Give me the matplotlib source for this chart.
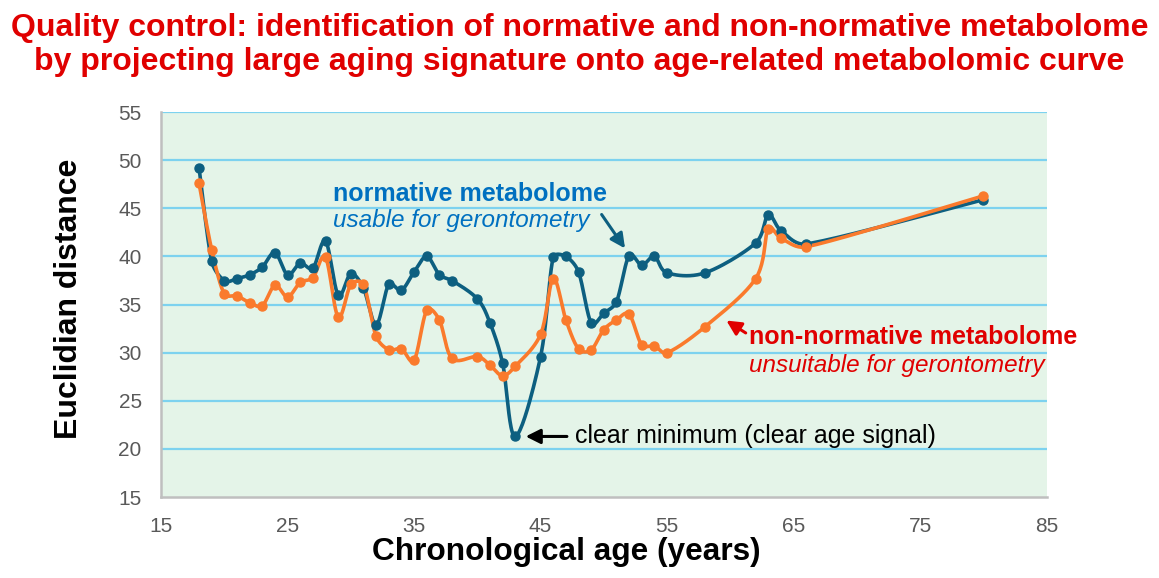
import numpy as np
import matplotlib
matplotlib.use('Agg')
import matplotlib.pyplot as plt

plt.rcParams['font.family'] = ['Liberation Sans', 'DejaVu Sans']

# ages (years) where the curves have a marker
ages = [18, 19, 20, 21, 22, 23, 24, 25, 26, 27, 28, 29, 30, 31, 32, 33, 34, 35, 36, 37, 38,
        40, 41, 42, 43, 45, 46, 47, 48, 49, 50, 51, 52, 53, 54, 55, 58, 62, 63, 64, 66, 80]

# euclidian distance, normative metabolome
dist_normative = [49.2, 39.5, 37.5, 37.7, 38.1, 38.9, 40.4, 38.1, 39.3, 38.8, 41.6, 36.0, 38.2,
                  36.7, 32.9, 37.1, 36.5, 38.4, 40.0, 38.1, 37.5, 35.6, 33.1, 28.9, 21.3, 29.6,
                  39.9, 40.0, 38.4, 33.1, 34.1, 35.3, 40.1, 39.1, 40.0, 38.3, 38.3, 41.4, 44.3,
                  42.7, 41.3, 45.9]

# euclidian distance, non-normative metabolome
dist_nonnormative = [47.6, 40.7, 36.1, 35.9, 35.2, 34.9, 37.0, 35.8, 37.3, 37.8, 39.9, 33.7, 37.1,
                     37.1, 31.7, 30.3, 30.4, 29.2, 34.4, 33.4, 29.4, 29.6, 28.7, 27.6, 28.6, 31.9,
                     37.7, 33.4, 30.4, 30.3, 32.4, 33.4, 34.0, 30.8, 30.7, 30.0, 32.7, 37.7, 42.9,
                     41.9, 41.0, 46.3]

x_ticks = [15, 25, 35, 45, 55, 65, 75, 85]
y_ticks = [15, 20, 25, 30, 35, 40, 45, 50, 55]

BLUE_LINE = '#0d5f80'
ORANGE_LINE = '#fa7a2c'
BLUE_TEXT = '#0070c0'
RED_TEXT = '#e00000'


def smooth_curve(ax, xs, ys, n=24, clamp=0.4):
    # excel-like smoothed line, worked out in pixel space so the
    # control handles can be kept short next to steep jumps
    pts = ax.transData.transform(np.column_stack([xs, ys]))
    pts = np.vstack([pts[0], pts, pts[-1]])
    t = np.linspace(0, 1, n)[:, None]
    out = []
    for i in range(1, len(pts) - 2):
        p0, p1, p2, p3 = pts[i - 1], pts[i], pts[i + 1], pts[i + 2]
        seg_len = np.hypot(*(p2 - p1))
        t1 = (p2 - p0) / 6
        t2 = (p3 - p1) / 6
        for tv in (t1, t2):
            l = np.hypot(*tv)
            if l > clamp * seg_len:
                tv *= clamp * seg_len / l
        c1 = p1 + t1
        c2 = p2 - t2
        seg = ((1 - t) ** 3) * p1 + 3 * ((1 - t) ** 2) * t * c1 + 3 * (1 - t) * t ** 2 * c2 + t ** 3 * p2
        out.append(seg if i == 1 else seg[1:])
    out = ax.transData.inverted().transform(np.vstack(out))
    return out[:, 0], out[:, 1]


fig = plt.figure(figsize=(11.59, 5.78), dpi=100)
ax = fig.add_axes([0.139, 0.140, 0.764, 0.666])
ax.set_facecolor('#e4f4e8')
ax.set_xlim(15, 85)
ax.set_ylim(15, 55)

for y in y_ticks[1:]:
    ax.axhline(y, color='#7dd2ef', linewidth=1.6, zorder=1)

for dist, color in [(dist_normative, BLUE_LINE), (dist_nonnormative, ORANGE_LINE)]:
    sx, sy = smooth_curve(ax, ages, dist)
    ax.plot(sx, sy, color=color, linewidth=2.6, zorder=3, solid_capstyle='round')
    ax.plot(ages, dist, 'o', color=color, markersize=6.5, zorder=4)

ax.set_xticks(x_ticks)
ax.set_yticks(y_ticks)
ax.tick_params(length=0, labelsize=15, labelcolor='#595959', pad=14)
for side in ['top', 'right']:
    ax.spines[side].set_visible(False)
for side in ['left', 'bottom']:
    ax.spines[side].set_color('#bfbfbf')
    ax.spines[side].set_linewidth(1.8)

ax.set_xlabel('Chronological age (years)', fontsize=22.8, fontweight='bold', labelpad=1)
ax.set_ylabel('Euclidian distance', fontsize=23, fontweight='bold', labelpad=24.5)
# the labels in the original sit a bit off the axes centre
ax.xaxis.label.set_x(0.458)
ax.yaxis.label.set_y(0.514)

fig.text(0.5, 0.938, 'Quality control: identification of normative and non-normative metabolome',
         ha='center', va='baseline', color=RED_TEXT, fontsize=23, fontweight='bold')
fig.text(0.5, 0.879, 'by projecting large aging signature onto age-related metabolomic curve',
         ha='center', va='baseline', color=RED_TEXT, fontsize=23, fontweight='bold')

# annotations
ax.text(28.6, 46.5, 'normative metabolome', color=BLUE_TEXT, fontsize=18, fontweight='bold',
        ha='left', va='center', zorder=5)
ax.text(28.6, 43.7, 'usable for gerontometry', color=BLUE_TEXT, fontsize=17.5, style='italic',
        ha='left', va='center', zorder=5)
ax.annotate('', xy=(51.8, 40.6), xytext=(49.7, 44.6),
            arrowprops=dict(arrowstyle='-|>', color=BLUE_LINE, lw=2.2, mutation_scale=22), zorder=5)

ax.text(61.5, 31.6, 'non-normative metabolome', color=RED_TEXT, fontsize=18, fontweight='bold',
        ha='left', va='center', zorder=5)
ax.text(61.5, 28.7, 'unsuitable for gerontometry', color=RED_TEXT, fontsize=17.5, style='italic',
        ha='left', va='center', zorder=5)
ax.annotate('', xy=(59.5, 33.5), xytext=(61.4, 31.9),
            arrowprops=dict(arrowstyle='-|>', color=RED_TEXT, lw=2.2, mutation_scale=22), zorder=5)

ax.text(47.7, 21.3, 'clear minimum (clear age signal)', color='black', fontsize=18,
        ha='left', va='center', zorder=5)
ax.annotate('', xy=(43.6, 21.3), xytext=(47.3, 21.3),
            arrowprops=dict(arrowstyle='-|>', color='black', lw=2.2, mutation_scale=22), zorder=5)

fig.savefig('out.png', dpi=100)
